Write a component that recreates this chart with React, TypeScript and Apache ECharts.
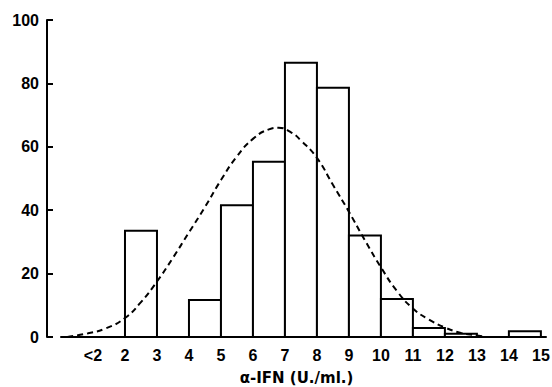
import React, { useEffect, useRef } from "react";
import * as echarts from "echarts";

// Histogram bins: start of each 1-unit bin and its count
const binStarts = [2, 4, 5, 6, 7, 8, 9, 10, 11, 12, 14];
const binCounts = [33.5, 11.7, 41.6, 55.3, 86.5, 78.6, 32, 12, 2.8, 1, 1.8];

// Fitted (dashed) curve points
const curveX = [0.2, 0.85, 1.4, 2.0, 2.5, 3.0, 3.5, 4.0, 4.5, 5.0, 5.5, 6.0, 6.5, 6.8, 7.2, 7.5, 8.0, 8.5, 9.0, 9.5, 10.0, 10.5, 11.0, 11.5, 12.0, 12.5, 13.0, 13.3];
const curveY = [0, 1.2, 2.7, 6, 11, 17.5, 25, 33, 41, 49.5, 57, 62.5, 65.5, 66, 64.5, 62, 56.5, 48, 39.5, 30.5, 22, 14.5, 9, 5.5, 3, 1.3, 0.5, 0];

// Tick labels
const yTicks = [0, 20, 40, 60, 80, 100];
const xTickLabels: Record<number, string> = {
  1: "<2", 2: "2", 3: "3", 4: "4", 5: "5", 6: "6", 7: "7", 8: "8",
  9: "9", 10: "10", 11: "11", 12: "12", 13: "13", 14: "14", 15: "15",
};
const xTitle = "α-IFN (U./ml.)";

const FONT = "'Liberation Sans', Arial, sans-serif";
const TITLE_FONT = "'DejaVu Sans', sans-serif";

export default function App() {
  const ref = useRef<HTMLDivElement>(null);
  useEffect(() => {
    if (!ref.current) return;
    const chart = echarts.init(ref.current, null, { renderer: "svg" });
    const barData = binStarts.map((s, i) => [s, binCounts[i]]);
    const curveData = curveX.map((x, i) => [x, curveY[i]]);
    chart.setOption({
      animation: false,
      backgroundColor: "#fff",
      grid: { left: 61, right: 6, top: 20, bottom: 50, containLabel: false, outerBoundsMode: "none" },
      xAxis: {
        type: "value",
        min: 0,
        max: 15.16,
        interval: 1,
        splitLine: { show: false },
        axisTick: { show: false },
        axisLine: { show: true, onZero: false, lineStyle: { color: "#000", width: 2 } },
        axisLabel: {
          color: "#000",
          fontFamily: FONT,
          fontWeight: "bold",
          fontSize: 16,
          margin: 10,
          formatter: (v: number) => (Number.isInteger(v) && xTickLabels[v] !== undefined ? xTickLabels[v] : ""),
        },
        name: xTitle,
        nameLocation: "middle",
        nameGap: 33,
        nameTextStyle: {
          color: "#000",
          fontFamily: TITLE_FONT,
          fontWeight: "bold",
          fontSize: 15,
          lineHeight: 16,
          padding: [0, 14, 0, 0],
        },
      },
      yAxis: {
        type: "value",
        position: "left",
        min: 0,
        max: 100,
        interval: 20,
        offset: 14,
        splitLine: { show: false },
        axisLine: { show: true, onZero: false, lineStyle: { color: "#000", width: 2 } },
        axisTick: { show: true, inside: true, length: 6, lineStyle: { color: "#000", width: 2 } },
        axisLabel: {
          color: "#000",
          fontFamily: FONT,
          fontWeight: "bold",
          fontSize: 16,
          margin: 8,
          customValues: yTicks,
        },
      },
      series: [
        {
          type: "custom",
          z: 2,
          data: barData,
          renderItem: (params: any, api: any) => {
            const x0 = api.value(0);
            const h = api.value(1);
            const p0 = api.coord([x0, 0]);
            const p1 = api.coord([x0 + 1, h]);
            return {
              type: "rect",
              shape: { x: p0[0], y: p1[1], width: p1[0] - p0[0], height: p0[1] - p1[1] },
              style: { fill: "#fff", stroke: "#000", lineWidth: 2 },
            };
          },
        },
        {
          type: "line",
          z: 3,
          data: curveData,
          smooth: true,
          showSymbol: false,
          symbol: "none",
          lineStyle: { color: "#000", width: 2, type: [6, 4] },
        },
      ],
    });
    return () => chart.dispose();
  }, []);
  return <div ref={ref} style={{ width: 552, height: 387, position: "absolute", left: 0, top: 0 }} />;
}
